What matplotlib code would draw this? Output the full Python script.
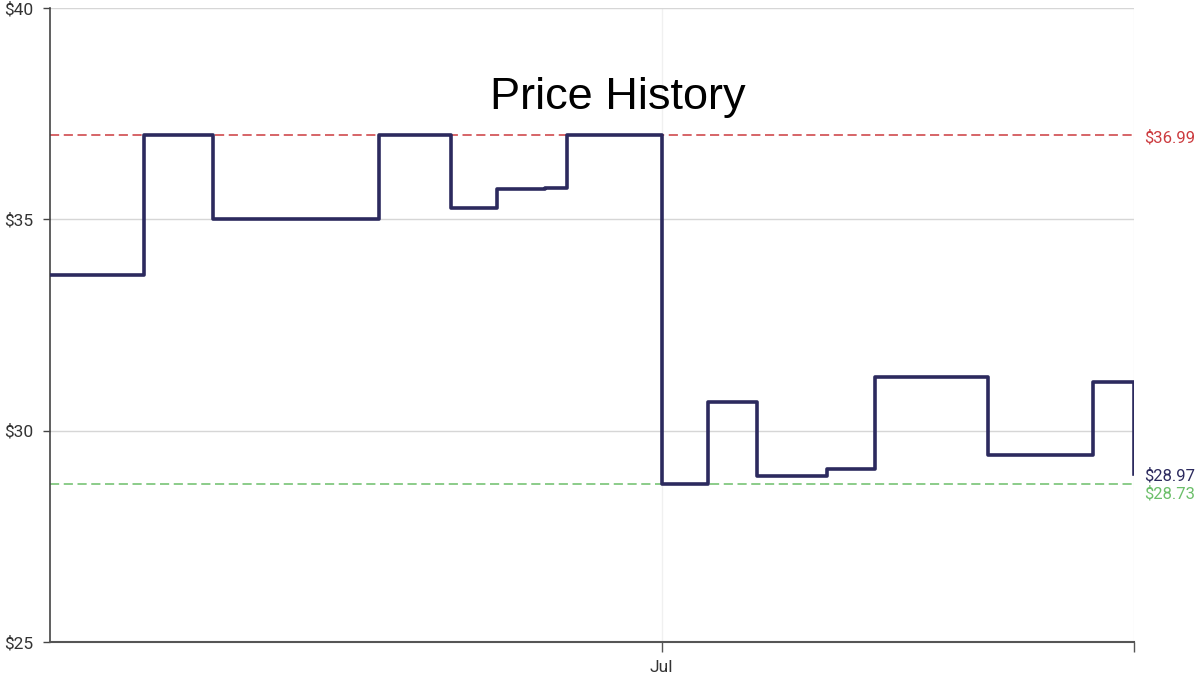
import matplotlib
matplotlib.use("Agg")
import matplotlib.pyplot as plt
import matplotlib.dates as mdates
import matplotlib.transforms as mtransforms
from datetime import datetime

# price change points (steps-post), last entry is the end of the series
dates = ["2023-06-02 00:00", "2023-06-06 10:30", "2023-06-09 18:00", "2023-06-17 14:30",
         "2023-06-21 00:00", "2023-06-23 04:30", "2023-06-25 11:30", "2023-06-26 12:45",
         "2023-07-01 01:00", "2023-07-03 05:15", "2023-07-05 12:15", "2023-07-08 20:00",
         "2023-07-11 02:30", "2023-07-16 11:30", "2023-07-21 11:15", "2023-07-23 09:40"]
prices = [33.69, 36.99, 35.00, 36.99, 35.27, 35.71, 35.74, 36.99,
          28.73, 30.69, 28.93, 29.10, 31.26, 29.43, 31.14, 28.97]
x_start = "2023-06-02 00:00"
x_end = "2023-07-23 09:40"
y_ticks = [25, 30, 35, 40]
high_price = 36.99
low_price = 28.73
last_price = 28.97

navy = "#2c2a5e"
red = "#cc3b3f"
green = "#6cbf6a"

plt.rcParams["font.family"] = ["Roboto", "DejaVu Sans"]

t = [datetime.strptime(d, "%Y-%m-%d %H:%M") for d in dates]
t0 = datetime.strptime(x_start, "%Y-%m-%d %H:%M")
t1 = datetime.strptime(x_end, "%Y-%m-%d %H:%M")

fig = plt.figure(figsize=(12, 6.81), dpi=100)
ax = fig.add_axes([50/1200, 39/681, (1134-50)/1200, (642-8)/681])

ax.plot(t, prices, drawstyle="steps-post", color=navy, lw=2.6, zorder=3)
ax.axhline(high_price, color=red, lw=1.1, ls=(0, (6, 3)), zorder=2)
ax.axhline(low_price, color=green, lw=1.1, ls=(0, (6, 3)), zorder=2)

ax.set_xlim(t0, t1)
ax.set_ylim(25, 40)
ax.set_yticks(y_ticks)
ax.set_yticklabels([f"${v}" for v in y_ticks])
jul = datetime(2023, 7, 1)
ax.set_xticks([mdates.date2num(jul), mdates.date2num(t1)])
ax.set_xticklabels(["Jul", ""])

ax.grid(axis="y", color="#d6d6d6", lw=1)
ax.axvline(jul, color="#f0f0f0", lw=1, zorder=0)
ax.axvline(t1, color="#f0f0f0", lw=1, zorder=0)
ax.set_axisbelow(True)

for s in ["top", "right"]:
    ax.spines[s].set_visible(False)
ax.spines["left"].set_color("#444444")
ax.spines["bottom"].set_color("#555555")
ax.spines["left"].set_linewidth(1.2)
ax.spines["bottom"].set_linewidth(1.5)
ax.tick_params(axis="y", length=5, width=1, color="#444444", labelsize=12.5, labelcolor="#333333", pad=7)
ax.tick_params(axis="x", length=7, width=1, color="#555555", labelsize=12.5, labelcolor="#333333", pad=6)

trans = mtransforms.blended_transform_factory(ax.transAxes, ax.transData)
ax.annotate(f"${high_price:.2f}", xy=(1.0, high_price), xycoords=trans, xytext=(7, -2),
            textcoords="offset points", color=red, fontsize=12, va="center", annotation_clip=False)
ax.annotate(f"${last_price:.2f}", xy=(1.0, last_price), xycoords=trans, xytext=(7, -1),
            textcoords="offset points", color=navy, fontsize=12, va="center", annotation_clip=False)
ax.annotate(f"${low_price:.2f}", xy=(1.0, low_price), xycoords=trans, xytext=(7, -7),
            textcoords="offset points", color=green, fontsize=12, va="center", annotation_clip=False)

fig.text(618/1200, 1 - 97/681, "Price History", ha="center", va="center",
         fontsize=32.5, family=["Liberation Sans", "DejaVu Sans"], color="black")

fig.savefig("out.png", dpi=100)
